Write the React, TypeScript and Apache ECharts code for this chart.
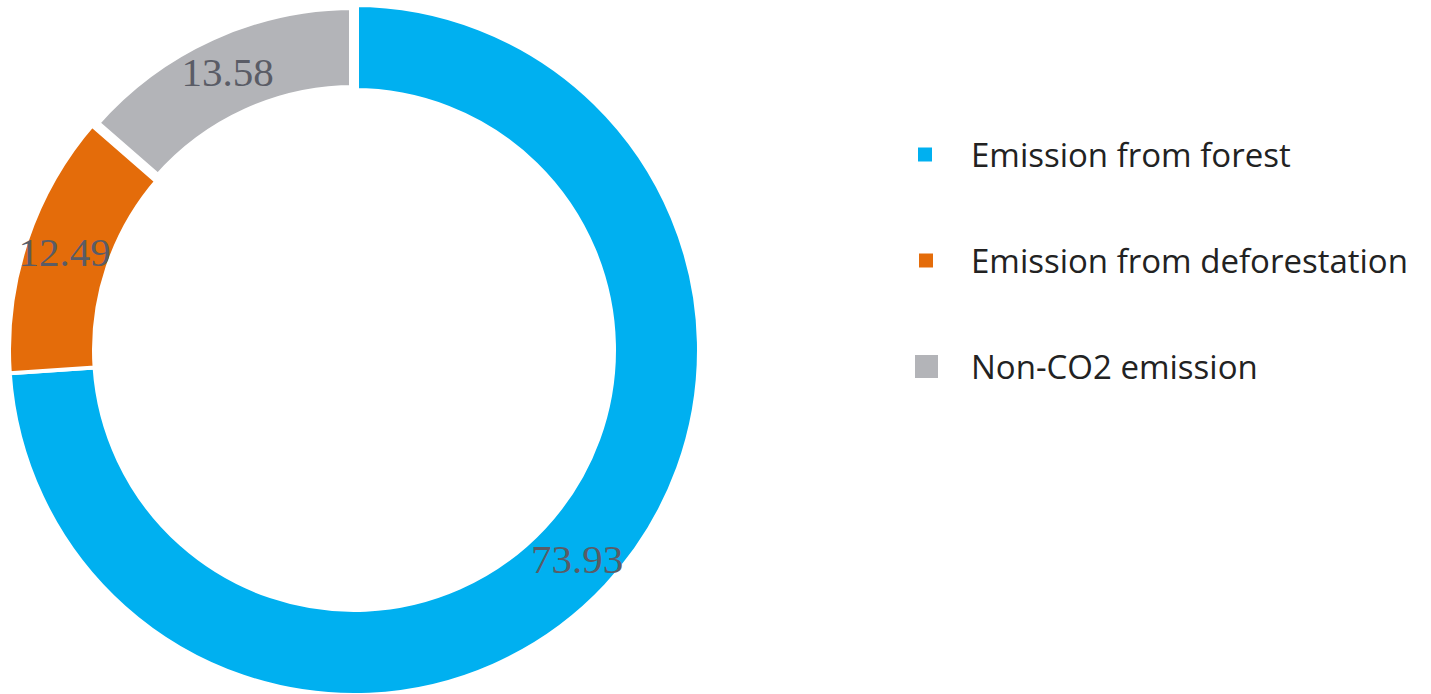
import React, { useEffect, useRef } from "react";
import * as echarts from "echarts";

const categories = ["Emission from forest", "Emission from deforestation", "Non-CO2 emission"];
const values = [73.93, 12.49, 13.58];
const colors = ["#00b0f0", "#e46c0a", "#b3b4b8"];
const borderWidths = [4, 4, 10];
const legendTops = [138, 244, 350];
const legendIconSizes = [16, 16, 25];
const legendLefts = [916, 917, 913];
const legendTextPads = [33, 32, 27];

export default function App() {
  const ref = useRef<HTMLDivElement>(null);
  useEffect(() => {
    document.body.style.margin = "0";
    const chart = echarts.init(ref.current!, null, { renderer: "svg" });
    const legends = categories.map((name, i) => ({
      data: [name],
      left: legendLefts[i],
      top: legendTops[i],
      orient: "vertical",
      itemWidth: legendIconSizes[i],
      itemHeight: legendIconSizes[i],
      icon: "rect",
      selectedMode: false,
      padding: 0,
      textStyle: {
        fontFamily: "Open Sans",
        fontSize: 33,
        lineHeight: 33,
        color: "#222222",
        padding: [0, 0, 0, legendTextPads[i]],
      },
    }));
    chart.setOption({
      animation: false,
      legend: legends,
      series: [
        {
          type: "pie",
          center: [354, 350],
          radius: [260, 345],
          startAngle: 90,
          clockwise: true,
          avoidLabelOverlap: false,
          label: {
            show: true,
            position: "inside",
            formatter: "{c}",
            fontFamily: "Liberation Serif",
            fontSize: 41,
            color: "#5a5c66",
          },
          labelLine: { show: false },
          emphasis: { disabled: true },
          data: categories.map((name, i) => ({
            name,
            value: values[i],
            itemStyle: { color: colors[i], borderColor: "#ffffff", borderWidth: borderWidths[i] },
          })),
        },
      ],
    });
    return () => chart.dispose();
  }, []);
  return <div ref={ref} style={{ width: 1431, height: 694 }} />;
}
